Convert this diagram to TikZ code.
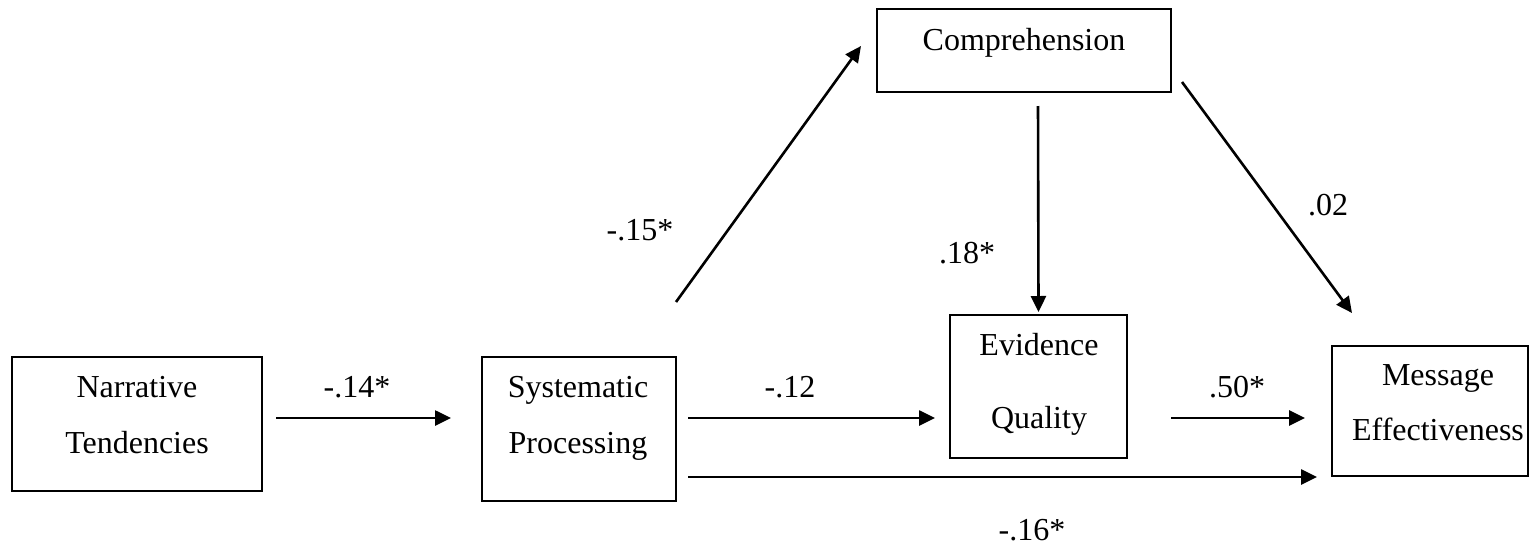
\documentclass[tikz,border=0pt]{standalone}
\usepackage{fontspec}
\setmainfont{Liberation Serif}
\usetikzlibrary{arrows.meta,calc}
\begin{document}
\begin{tikzpicture}[x=0.5pt,y=-0.5pt,
  box/.style={draw=black,line width=1pt,rectangle,inner sep=0pt},
  txt/.style={anchor=base,inner sep=0pt,font=\fontsize{16}{18}\selectfont},
  arr/.style={line width=1.3pt,-{Triangle[length=8pt,width=7.5pt]}}]
\useasboundingbox (0,0) rectangle (1529,546);
% boxes
\node[box,minimum width=250*0.5pt,minimum height=134*0.5pt] (nt) at (137,424) {};
\node[box,minimum width=194*0.5pt,minimum height=144*0.5pt] (sp) at (579,429) {};
\node[box,minimum width=177*0.5pt,minimum height=143*0.5pt] (eq) at (1038.5,386.5) {};
\node[box,minimum width=196*0.5pt,minimum height=130*0.5pt] (me) at (1430,411) {};
\node[box,minimum width=294*0.5pt,minimum height=83*0.5pt] (co) at (1024,50.5) {};
% texts
\node[txt] (nt1) at (137,397) {Narrative};
\node[txt] (nt2) at (137,453) {Tendencies};
\node[txt] (sp1) at (578,397) {Systematic};
\node[txt] (sp2) at (578,453) {Processing};
\node[txt] (eq1) at (1039,355) {Evidence};
\node[txt] (eq2) at (1039,428) {Quality};
\node[txt] (me1) at (1438,385) {Message};
\node[txt] (me2) at (1438,440) {Effectiveness};
\node[txt] (co1) at (1024,50) {Comprehension};
% connectors
\draw[arr] ($(nt.east)+(13,-6)$) -- ($(sp.west)+(-30,-11)$);
\draw[arr] ($(sp.east)+(11,-11)$) -- ($(eq.west)+(-14,31.5)$);
\draw[arr] ($(sp.east)+(11,48)$) -- ($(me.west)+(-14,66)$);
\draw[arr] ($(eq.east)+(43,31.5)$) -- ($(me.west)+(-26,7)$);
\draw[arr] ($(sp.north east)+(-1,-54)$) -- ($(co.west)+(-15,-4.5)$);
\draw[arr] ($(co.south)+(14,13)$) -- ($(eq.north)+(0,-2)$);
\draw[arr] ($(co.south east)+(10,-11)$) -- ($(me.north west)+(21,-32)$);
% labels
\node[txt] (l1) at (357,397) {-.14*};
\node[txt] (l2) at (790,397) {-.12};
\node[txt] (l3) at (1237,397) {.50*};
\node[txt] (l4) at (1032,540) {-.16*};
\node[txt] (l5) at (640,240) {-.15*};
\node[txt] (l6) at (967,263) {.18*};
\node[txt] (l7) at (1328,215) {.02};
\end{tikzpicture}
\end{document}
